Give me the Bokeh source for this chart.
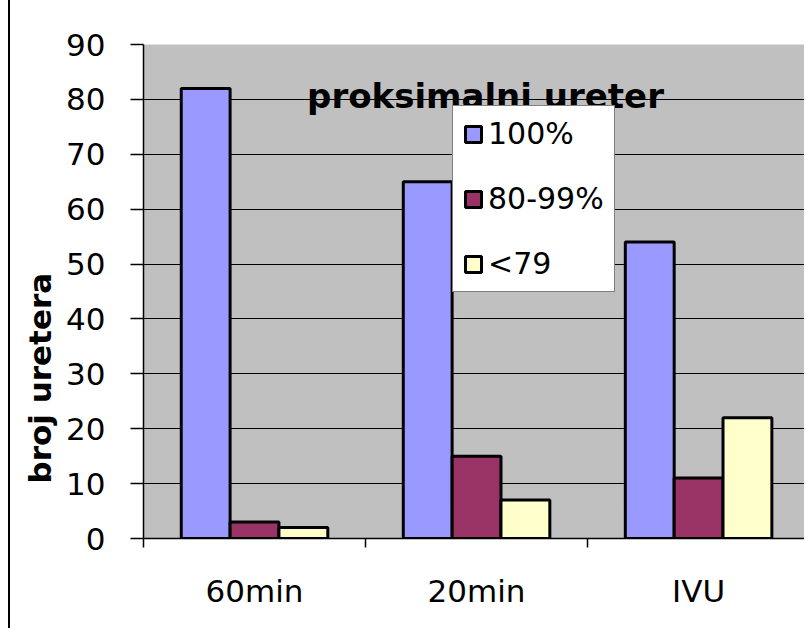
import numpy as np
from bokeh.plotting import figure
from bokeh.models import (Range1d, FixedTicker, Label, Legend, LegendItem, ColumnDataSource, Title)
from bokeh.embed import file_html
from bokeh.resources import INLINE

categories = ["60min", "20min", "IVU"]
series_names = ["100%", "80-99%", "<79"]
v100 = [82, 65, 54]
v80_99 = [3, 15, 11]
v79 = [2, 7, 22]
colors = ["#9999ff", "#993366", "#ffffcc"]
y_ticks = [0, 10, 20, 30, 40, 50, 60, 70, 80, 90]

FONT = "DejaVu Sans"

p = figure(width=796, height=628, output_backend="svg", toolbar_location=None,
           x_range=Range1d(0, 2.986), y_range=Range1d(0, 90),
           min_border_left=133, min_border_right=0, min_border_top=44, min_border_bottom=90)
p.styles = {"margin-left": "8px", "border-left": "2px solid black"}
p.background_fill_color = "#c0c0c0"
p.border_fill_color = "white"
p.outline_line_color = None

centers = np.arange(len(categories)) + 0.5
offsets = [-0.22, 0.0, 0.22]
bar_w = 0.22
renderers = []
for vals, off, col in zip([v100, v80_99, v79], offsets, colors):
    src = ColumnDataSource(dict(x=centers + off, top=vals))
    r = p.vbar(x="x", top="top", width=bar_w, bottom=0, source=src,
               fill_color=col, line_color="black", line_width=3)
    renderers.append(r)

# x axis
p.xaxis.ticker = FixedTicker(ticks=list(centers), minor_ticks=list(range(len(categories) + 1)))
p.xaxis.major_label_overrides = {float(c): n for c, n in zip(centers, categories)}
p.xaxis.major_tick_out = 0
p.xaxis.major_tick_in = 0
p.xaxis.minor_tick_out = 9
p.xaxis.minor_tick_in = 0
p.xaxis.minor_tick_line_width = 1.5
p.xaxis.major_label_standoff = 25
p.xaxis.major_label_text_font = FONT
p.xaxis.major_label_text_font_size = "31px"
p.xaxis.major_label_text_color = "black"
p.xaxis.axis_line_color = "black"
p.xaxis.axis_line_width = 1.5

# y axis
p.yaxis.ticker = FixedTicker(ticks=y_ticks)
p.yaxis.major_tick_out = 13
p.yaxis.major_tick_in = 0
p.yaxis.minor_tick_out = 0
p.yaxis.minor_tick_in = 0
p.yaxis.major_label_standoff = 25
p.yaxis.major_label_text_font = FONT
p.yaxis.major_label_text_font_size = "31px"
p.yaxis.major_label_text_color = "black"
p.yaxis.axis_line_color = "black"
p.yaxis.axis_line_width = 1.5
p.yaxis.major_tick_line_width = 1.5

p.xgrid.grid_line_color = None
p.ygrid.ticker = FixedTicker(ticks=y_ticks)
p.ygrid.grid_line_color = "black"
p.ygrid.grid_line_width = 1.2

# title inside plot
p.add_layout(Label(x=342, y=443, x_units="screen", y_units="screen",
                   text="proksimalni ureter", text_font=FONT, text_font_style="bold",
                   text_font_size="34px", text_align="center", text_baseline="alphabetic",
                   text_color="black"))

# y axis label as a side title
p.add_layout(Title(text="broj uretera", text_font=FONT, text_font_style="bold",
                   text_font_size="31px", text_color="black", align="left",
                   offset=55, standoff=12), "left")

legend = Legend(items=[LegendItem(label=n, renderers=[r]) for n, r in zip(series_names, renderers)],
                location=(309, 246), orientation="vertical",
                label_text_font=FONT, label_text_font_size="30px", label_text_color="black",
                glyph_width=20, glyph_height=20, label_standoff=5,
                padding=10, spacing=30, margin=0,
                background_fill_color="white", background_fill_alpha=1.0,
                border_line_color="black", border_line_width=1.5)
p.add_layout(legend, "center")

open("out.html", "w").write(file_html(p, INLINE))
